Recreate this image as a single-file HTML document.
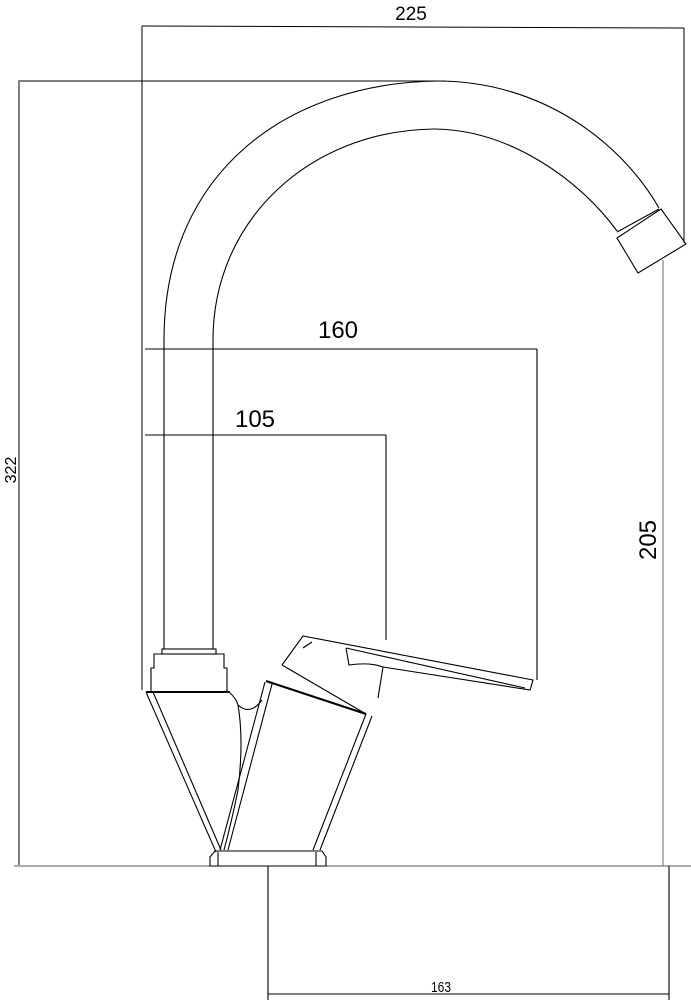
<!DOCTYPE html>
<html><head><meta charset="utf-8"><style>
html,body{margin:0;padding:0;background:#fff}
svg{display:block}
text{font-family:"Liberation Sans",sans-serif;fill:#000}
</style></head><body>
<svg width="691" height="1000" viewBox="0 0 691 1000" xmlns="http://www.w3.org/2000/svg">
<g fill="none" stroke="#000" stroke-width="1.1">
<!-- dimension lines -->
<line x1="142" y1="26" x2="684" y2="28" stroke-width="1"/>
<line x1="142" y1="26" x2="142" y2="690" stroke-width="1"/>
<line x1="684" y1="28" x2="684" y2="243" stroke-width="1"/>
<line x1="18" y1="81" x2="445" y2="81" stroke-width="1"/>
<line x1="19" y1="82" x2="19" y2="865" stroke-width="1"/>
<line x1="14" y1="866" x2="691" y2="866" stroke="#555" stroke-width="1"/>
<line x1="145" y1="349" x2="537" y2="349"/>
<line x1="537" y1="349" x2="537" y2="680"/>
<line x1="145" y1="435" x2="386" y2="435"/>
<line x1="386" y1="435" x2="386" y2="640"/>
<line x1="663" y1="260" x2="663" y2="866" stroke="#777"/>
<line x1="268" y1="866" x2="268" y2="1000"/>
<line x1="669" y1="866" x2="669" y2="1000"/>
<line x1="268" y1="994" x2="669" y2="994"/>
<!-- spout -->
<path d="M164,649 L164,340 C164,170 290,82 440,81 C540,82 620,140 659,208"/>
<path d="M213,649 L213,340 C213,220 310,130 435,129 C510,130 580,180 617,231"/>
<path d="M617,238 L661,209 L686,244 L638,273 Z"/>
<line x1="617" y1="232" x2="659" y2="209"/>
<!-- nut -->
<rect x="162" y="649" width="54" height="5"/>
<path d="M154,668 L154,654 L224,654 L224,668 L227,668 L227,692 L151,692 L151,668 Z"/>
<line x1="146" y1="692" x2="230" y2="692" stroke-width="2"/>
<!-- cone -->
<path d="M146,692 L216,852"/>
<path d="M153,692 L221,850"/>
<path d="M229,692 Q236,698 238,705 Q250,716 262,700"/>
<path d="M238,705 Q244,740 238,790 Q232,820 224,850"/>
<!-- body -->
<path d="M265,682 L220,850"/>
<path d="M272,684 L228,850"/>
<path d="M266,681 L366,714" stroke-width="2"/>
<path d="M366,714 L313,850"/>
<path d="M372,716 L320,850"/>
<!-- handle -->
<path d="M282,665 L303,636 L533,680 L530,690 L383,667"/>
<path d="M282,665 L366,714"/>
<path d="M303,648 L312,642"/>
<path d="M346,648 L525,688"/>
<path d="M346,648 L349,665 Q370,662 383,667 L378,698"/>
<!-- base plate -->
<path d="M210,866 L210,857 L215,851 L322,851 L326,857 L326,866 Z"/>
<line x1="218" y1="852" x2="218" y2="866"/>
<line x1="316" y1="852" x2="316" y2="866"/>
</g>
<text x="411" y="20" font-size="19" text-anchor="middle">225</text>
<text x="338" y="338" font-size="24" text-anchor="middle">160</text>
<text x="255" y="427" font-size="24" text-anchor="middle">105</text>
<text x="441" y="992" font-size="15" text-anchor="middle" transform="translate(441,992) scale(0.8,1) translate(-441,-992)">163</text>
<text transform="translate(16,470) rotate(-90)" font-size="16" text-anchor="middle">322</text>
<text transform="translate(656,540) rotate(-90)" font-size="24" text-anchor="middle">205</text>
</svg>
</body></html>
